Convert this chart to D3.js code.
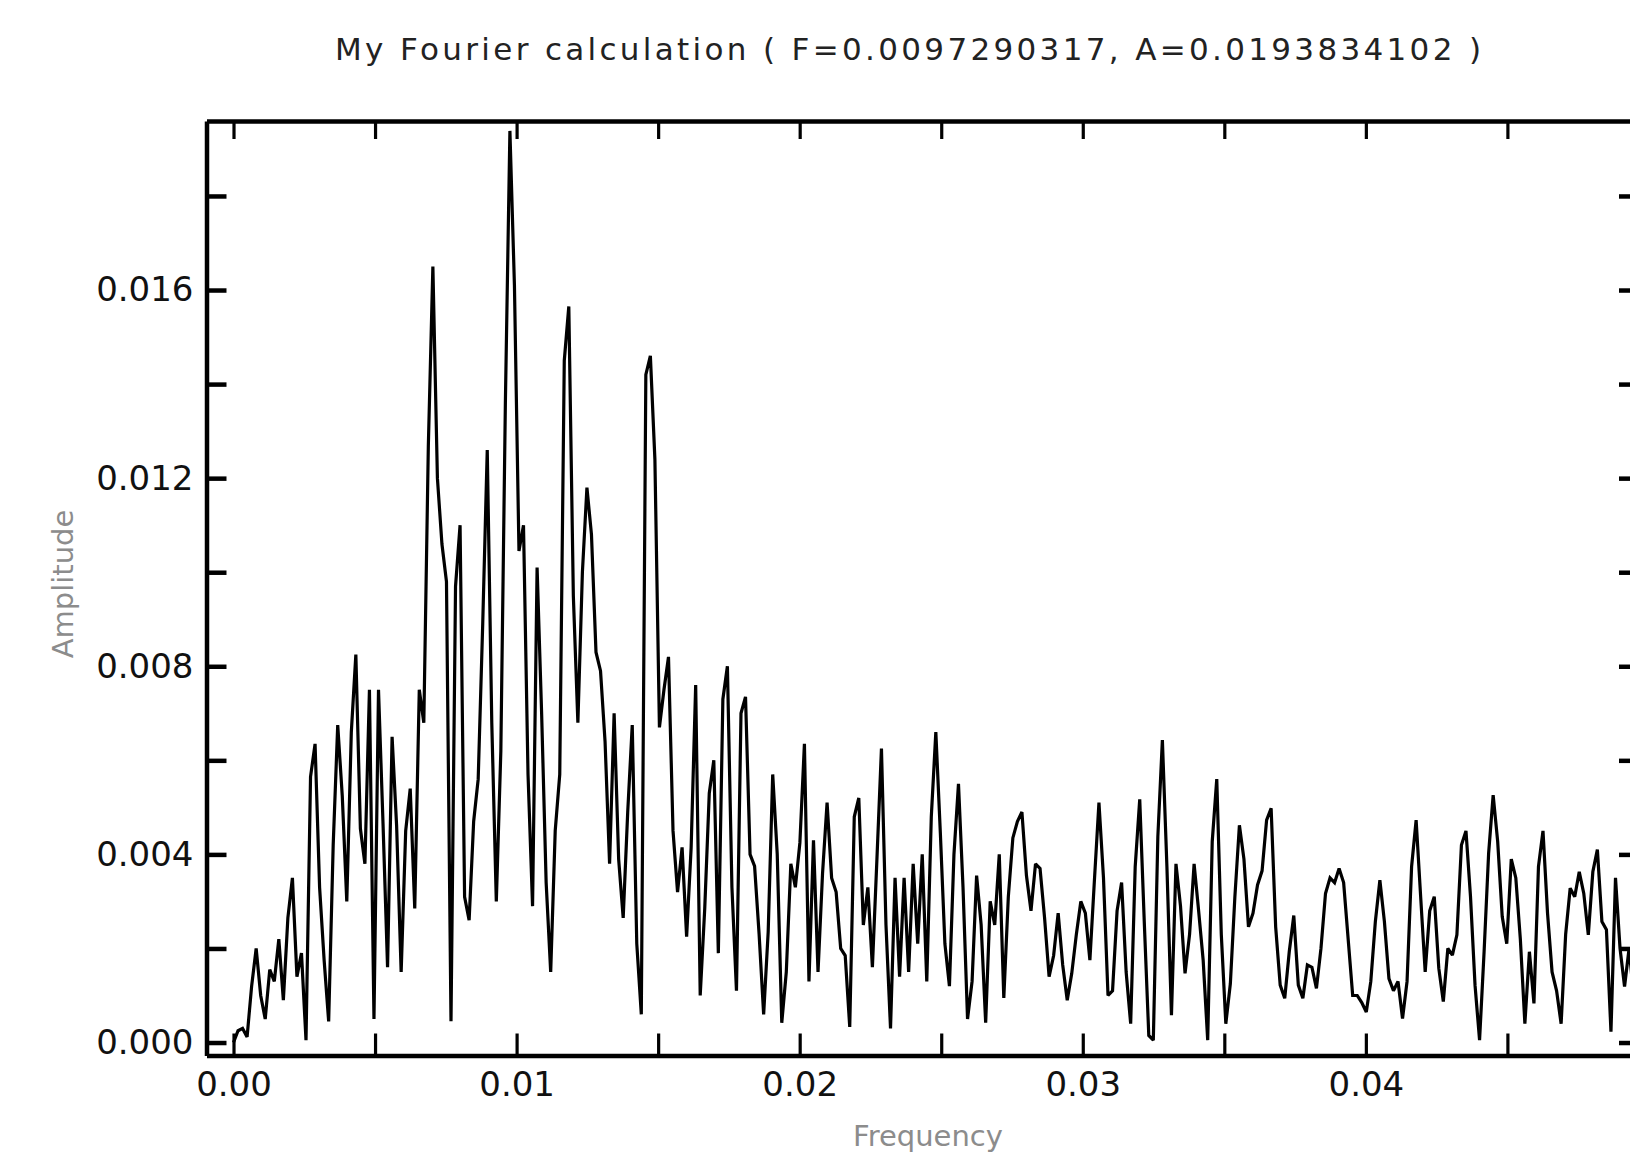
<!DOCTYPE html>
<html>
<head>
<meta charset="utf-8">
<script src="https://cdn.jsdelivr.net/npm/d3@7"></script>
<style>
  html, body { margin: 0; padding: 0; background: #ffffff; }
  svg { display: block; }
</style>
</head>
<body>
<svg id="chart" width="1630" height="1155"></svg>
<script>
// ---------------- data ----------------
const titleText = "My Fourier calculation ( F=0.0097290317, A=0.0193834102 )";
const xTitle = "Frequency";
const yTitle = "Amplitude";

// frequency spacing of the spectrum bins
const freqStep = 0.00016006;

// amplitude of each frequency bin
const amplitude = [
  0, 0.00025, 0.0003, 0.00012, 0.0012, 0.002, 0.001, 0.0005, 0.00155, 0.0013,
  0.0022, 0.0009, 0.00265, 0.0035, 0.0014, 0.0019, 0.00005, 0.00565, 0.00635, 0.0033,
  0.00175, 0.00045, 0.0042, 0.00675, 0.00525, 0.003, 0.0066, 0.00825, 0.00455, 0.0038,
  0.0075, 0.0005, 0.0075, 0.00465, 0.0016, 0.0065, 0.0046, 0.0015, 0.0045, 0.0054,
  0.00285, 0.0075, 0.0068, 0.0127, 0.0165, 0.012, 0.0106, 0.0098, 0.00045, 0.0097,
  0.011, 0.0031, 0.0026, 0.0047, 0.0056, 0.0089, 0.0126, 0.0068, 0.003, 0.0062,
  0.0136, 0.0193834, 0.0161, 0.01045, 0.011, 0.0057, 0.0029, 0.0101, 0.007, 0.0034,
  0.0015, 0.0045, 0.0057, 0.0145, 0.01565, 0.0095, 0.0068, 0.01, 0.0118, 0.0108,
  0.0083, 0.0079, 0.0064, 0.0038, 0.007, 0.0039, 0.00265, 0.0049, 0.00675, 0.0021,
  0.0006, 0.0142, 0.0146, 0.0124, 0.0067, 0.0075, 0.0082, 0.0045, 0.0032, 0.00415,
  0.00225, 0.00415, 0.0076, 0.001, 0.00285, 0.0053, 0.006, 0.0019, 0.0073, 0.008,
  0.0033, 0.0011, 0.007, 0.00735, 0.004, 0.00375, 0.0023, 0.0006, 0.00235, 0.0057,
  0.004, 0.00042, 0.0015, 0.0038, 0.0033, 0.00425, 0.00635, 0.0013, 0.0043, 0.0015,
  0.0036, 0.0051, 0.0035, 0.0032, 0.002, 0.00185, 0.00033, 0.0048, 0.0052, 0.0025,
  0.0033, 0.0016, 0.0039, 0.00625, 0.0025, 0.0003, 0.0035, 0.0014, 0.0035, 0.0015,
  0.0038, 0.0021, 0.004, 0.0013, 0.0048, 0.0066, 0.00445, 0.0021, 0.0012, 0.004,
  0.0055, 0.0033, 0.0005, 0.0013, 0.00355, 0.0025, 0.00042, 0.003, 0.0025, 0.004,
  0.00095, 0.0031, 0.00435, 0.0047, 0.0049, 0.00355, 0.0028, 0.0038, 0.0037, 0.00265,
  0.0014, 0.00185, 0.00275, 0.00165, 0.0009, 0.00147, 0.00229, 0.003, 0.00275, 0.00175,
  0.00345, 0.0051, 0.0035, 0.001, 0.0011, 0.0028, 0.0034, 0.0015, 0.0004, 0.00374,
  0.00517, 0.00257, 0.00015, 0.00005, 0.00438, 0.00643, 0.00374, 0.00058, 0.0038, 0.0029,
  0.00147, 0.0023, 0.0038, 0.0028, 0.00175, 0.00005, 0.00427, 0.0056, 0.0023, 0.0004,
  0.00125, 0.0031, 0.00462, 0.0039, 0.00246, 0.00275, 0.00335, 0.00365, 0.00473, 0.00498,
  0.00246, 0.00122, 0.00094, 0.00193, 0.0027, 0.00122, 0.00094, 0.00165, 0.0016, 0.00115,
  0.002, 0.00317, 0.0035, 0.0034, 0.0037, 0.0034, 0.0022, 0.001, 0.001, 0.00085,
  0.00065, 0.0013, 0.00257, 0.00345, 0.00257, 0.00136, 0.0011, 0.0013, 0.00051, 0.0013,
  0.00374, 0.00473, 0.0031, 0.0015, 0.0028, 0.0031, 0.00158, 0.00087, 0.002, 0.00186,
  0.00229, 0.0042, 0.0045, 0.0031, 0.00122, 0.00005, 0.00193, 0.00402, 0.00526, 0.00427,
  0.00268, 0.0021, 0.0039, 0.0035, 0.0022, 0.0004, 0.00193, 0.00083, 0.00374, 0.0045,
  0.00275, 0.0015, 0.0011, 0.0004, 0.0023, 0.00328, 0.0031, 0.00363, 0.00317, 0.00229,
  0.00363, 0.0041, 0.00257, 0.0024, 0.00023, 0.0035, 0.002, 0.00119, 0.002, 0.001,
  0.0018, 0.0022
];

// ticks
const xTickValues = [0, 0.005, 0.01, 0.015, 0.02, 0.025, 0.03, 0.035, 0.04, 0.045];
const xTickLabels = ["0.00", "", "0.01", "", "0.02", "", "0.03", "", "0.04", ""];
const yTickValues = [0, 0.002, 0.004, 0.006, 0.008, 0.010, 0.012, 0.014, 0.016, 0.018];
const yTickLabels = ["0.000", "", "0.004", "", "0.008", "", "0.012", "", "0.016", ""];

// ---------------- layout ----------------
const W = 1630, H = 1155;
const plot = { left: 206.5, right: 1637, top: 121, bottom: 1055.5 };
const xDomain = [-0.000954, 0.049578];
const yDomain = [-0.000276, 0.019594];

const svg = d3.select("#chart");

const x = d3.scaleLinear().domain(xDomain).range([plot.left, plot.right]);
const y = d3.scaleLinear().domain(yDomain).range([plot.bottom, plot.top]);

svg.append("rect").attr("x", 0).attr("y", 0).attr("width", W).attr("height", H).attr("fill", "#ffffff");

svg.append("defs").append("clipPath").attr("id", "plotClip")
  .append("rect")
  .attr("x", plot.left).attr("y", plot.top)
  .attr("width", plot.right - plot.left).attr("height", plot.bottom - plot.top);

const line = d3.line()
  .x((d, i) => x(i * freqStep))
  .y(d => y(d));

svg.append("path")
  .datum(amplitude)
  .attr("clip-path", "url(#plotClip)")
  .attr("fill", "none")
  .attr("stroke", "#000")
  .attr("stroke-width", 3.2)
  .attr("stroke-linejoin", "miter")
  .attr("stroke-miterlimit", 2)
  .attr("d", line);

const fontFam = "'DejaVu Sans', 'Liberation Sans', sans-serif";

function styleAxis(g, tickWidth) {
  g.select(".domain").attr("stroke", "#000").attr("stroke-width", 4.5);
  g.selectAll(".tick line").attr("stroke", "#000").attr("stroke-width", tickWidth);
  g.selectAll(".tick text")
    .attr("fill", "#111")
    .style("font-family", fontFam)
    .style("font-size", "34px");
}

const xAxisB = svg.append("g")
  .attr("transform", `translate(0,${plot.bottom})`)
  .call(d3.axisBottom(x).tickValues(xTickValues).tickSize(-22).tickSizeOuter(0)
    .tickPadding(16).tickFormat((d, i) => xTickLabels[i]));
styleAxis(xAxisB, 3.2);

const xAxisT = svg.append("g")
  .attr("transform", `translate(0,${plot.top})`)
  .call(d3.axisTop(x).tickValues(xTickValues).tickSize(-18).tickSizeOuter(0).tickFormat(() => ""));
styleAxis(xAxisT, 3.2);

const yAxisL = svg.append("g")
  .attr("transform", `translate(${plot.left},0)`)
  .call(d3.axisLeft(y).tickValues(yTickValues).tickSize(-20).tickSizeOuter(0)
    .tickPadding(13).tickFormat((d, i) => yTickLabels[i]));
styleAxis(yAxisL, 4.5);

const yAxisR = svg.append("g")
  .attr("transform", `translate(${plot.right},0)`)
  .call(d3.axisRight(y).tickValues(yTickValues).tickSize(-18).tickSizeOuter(0).tickFormat(() => ""));
styleAxis(yAxisR, 4.5);

svg.append("text")
  .attr("x", 908).attr("y", 60)
  .attr("text-anchor", "middle")
  .attr("fill", "#222")
  .style("font-family", fontFam)
  .style("font-size", "31px")
  .attr("textLength", 1146)
  .attr("lengthAdjust", "spacing")
  .text(titleText);

svg.append("text")
  .attr("x", 928).attr("y", 1146)
  .attr("text-anchor", "middle")
  .attr("fill", "#8c8c8c")
  .style("font-family", fontFam)
  .style("font-size", "29px")
  .text(xTitle);

svg.append("text")
  .attr("transform", "translate(73,584) rotate(-90)")
  .attr("text-anchor", "middle")
  .attr("fill", "#8c8c8c")
  .style("font-family", fontFam)
  .style("font-size", "29px")
  .text(yTitle);
</script>
</body>
</html>
